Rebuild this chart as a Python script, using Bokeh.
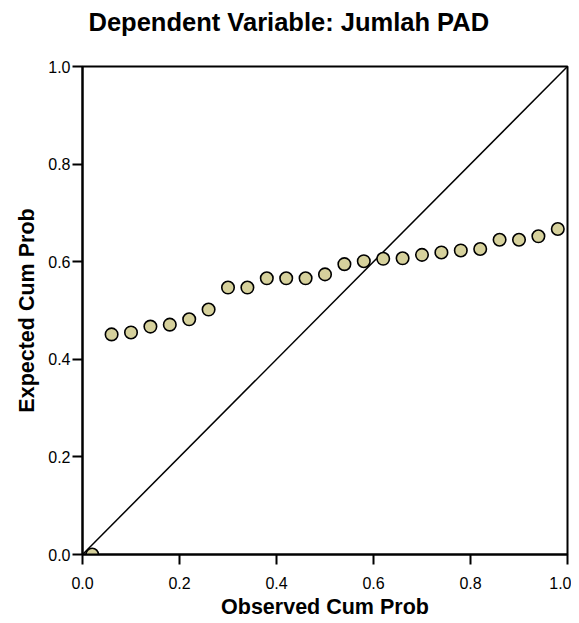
from bokeh.plotting import figure
from bokeh.models import FixedTicker, Range1d, Title
from bokeh.embed import file_html
from bokeh.resources import INLINE

title_text = "Dependent Variable: Jumlah PAD"
x_label = "Observed Cum Prob"
y_label = "Expected Cum Prob"

observed = [0.02, 0.06, 0.10, 0.14, 0.18, 0.22, 0.26, 0.30, 0.34, 0.38, 0.42, 0.46, 0.50,
            0.54, 0.58, 0.62, 0.66, 0.70, 0.74, 0.78, 0.82, 0.86, 0.90, 0.94, 0.98]
expected = [0.000, 0.451, 0.455, 0.467, 0.471, 0.482, 0.502, 0.547, 0.547, 0.566, 0.566, 0.566, 0.574,
            0.595, 0.601, 0.606, 0.607, 0.614, 0.619, 0.623, 0.626, 0.645, 0.645, 0.652, 0.667]
diag_x = [0.0, 1.0]
diag_y = [0.0, 1.0]
ticks = [0.0, 0.2, 0.4, 0.6, 0.8, 1.0]
tick_labels = ["0.0", "0.2", "0.4", "0.6", "0.8", "1.0"]

FONT = "Liberation Sans"

p = figure(frame_width=485, frame_height=488, output_backend="svg", toolbar_location=None,
           x_range=Range1d(0, 1), y_range=Range1d(0, 1),
           min_border_left=82, min_border_top=66, min_border_right=4, min_border_bottom=61)

# spacer between frame and title (inner panel item)
spacer = Title(text=" ", text_font_size="10px", standoff=13)
p.add_layout(spacer, "above")

p.title.text = title_text
p.title.align = "left"
p.title.offset = 6
p.title.text_font = FONT
p.title.text_font_size = "25.5px"
p.title.text_font_style = "bold"
p.title.text_color = "black"
p.title.standoff = 10

p.grid.visible = False
p.outline_line_color = "black"
p.outline_line_width = 2
p.background_fill_color = "white"
p.border_fill_color = "white"

for ax in (p.xaxis[0], p.yaxis[0]):
    ax.ticker = FixedTicker(ticks=ticks)
    ax.major_label_overrides = {t: l for t, l in zip(ticks, tick_labels)}
    ax.major_tick_in = 0
    ax.major_tick_out = 10
    ax.minor_tick_in = 0
    ax.minor_tick_out = 0
    ax.axis_line_width = 2
    ax.major_tick_line_width = 2
    ax.major_label_text_font = FONT
    ax.major_label_text_font_size = "16px"
    ax.major_label_text_color = "black"
    ax.axis_label_text_font = FONT
    ax.axis_label_text_font_size = "21.5px"
    ax.axis_label_text_font_style = "bold"
    ax.axis_label_text_color = "black"

p.xaxis.axis_label = x_label
p.yaxis.axis_label = y_label
p.xaxis.major_label_standoff = 12
p.yaxis.major_label_standoff = 2
p.xaxis.axis_label_standoff = 3
p.yaxis.axis_label_standoff = 6

p.line(diag_x, diag_y, line_color="black", line_width=1.5)
p.scatter(observed, expected, size=12.5, marker="circle", fill_color="#d6d19c",
          line_color="black", line_width=1.6)

open("out.html", "w").write(file_html(p, INLINE))
